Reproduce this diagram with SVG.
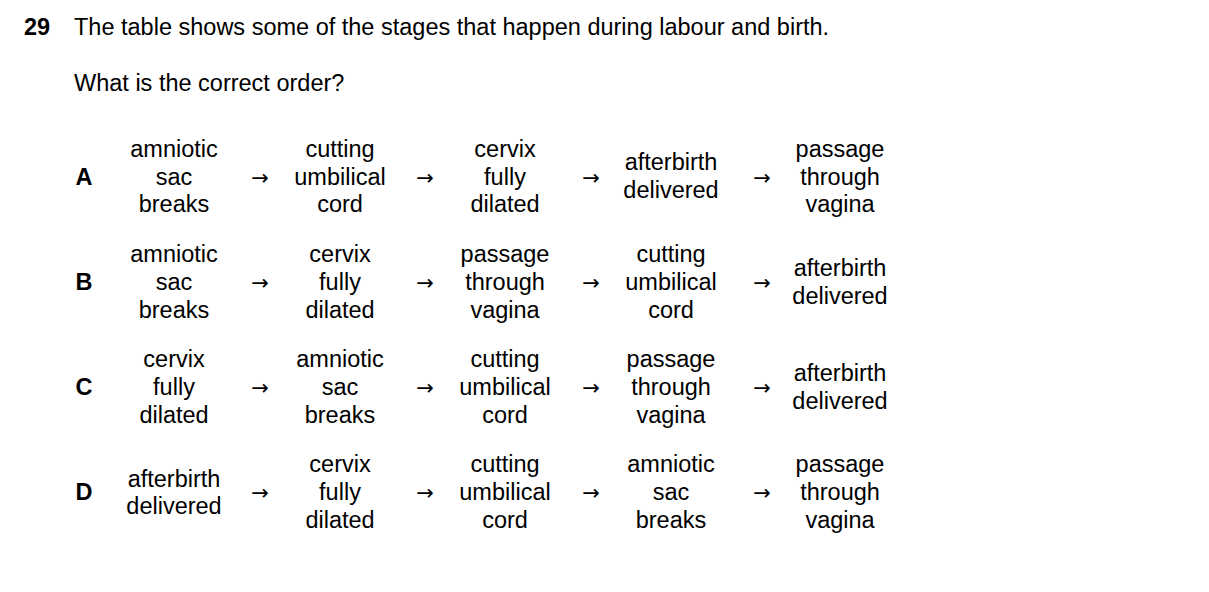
<svg xmlns="http://www.w3.org/2000/svg" width="1209" height="592" viewBox="0 0 1209 592">
<style>
text{font-family:"Liberation Sans",Arial,sans-serif;font-size:23.5px;fill:#000}
.c{text-anchor:middle}
.b{font-weight:bold}
.ar{font-family:"DejaVu Sans",sans-serif;font-size:21px;text-anchor:middle}
</style>
<rect width="1209" height="592" fill="#fff"/>
<text x="24" y="35" class="b">29</text>
<text x="74" y="35">The table shows some of the stages that happen during labour and birth.</text>
<text x="74" y="91">What is the correct order?</text>
<g id="rowA">
<text x="84" y="185" class="c b">A</text>
<text class="c" x="174" y="157">amniotic</text><text class="c" x="174" y="185">sac</text><text class="c" x="174" y="212">breaks</text>
<text class="c" x="340" y="157">cutting</text><text class="c" x="340" y="185">umbilical</text><text class="c" x="340" y="212">cord</text>
<text class="c" x="505" y="157">cervix</text><text class="c" x="505" y="185">fully</text><text class="c" x="505" y="212">dilated</text>
<text class="c" x="671" y="170">afterbirth</text><text class="c" x="671" y="198">delivered</text>
<text class="c" x="840" y="157">passage</text><text class="c" x="840" y="185">through</text><text class="c" x="840" y="212">vagina</text>
</g>
<g id="rowB">
<text x="84" y="290" class="c b">B</text>
<text class="c" x="174" y="262">amniotic</text><text class="c" x="174" y="290">sac</text><text class="c" x="174" y="318">breaks</text>
<text class="c" x="340" y="262">cervix</text><text class="c" x="340" y="290">fully</text><text class="c" x="340" y="318">dilated</text>
<text class="c" x="505" y="262">passage</text><text class="c" x="505" y="290">through</text><text class="c" x="505" y="318">vagina</text>
<text class="c" x="671" y="262">cutting</text><text class="c" x="671" y="290">umbilical</text><text class="c" x="671" y="318">cord</text>
<text class="c" x="840" y="276">afterbirth</text><text class="c" x="840" y="304">delivered</text>
</g>
<g id="rowC">
<text x="84" y="395" class="c b">C</text>
<text class="c" x="174" y="367">cervix</text><text class="c" x="174" y="395">fully</text><text class="c" x="174" y="423">dilated</text>
<text class="c" x="340" y="367">amniotic</text><text class="c" x="340" y="395">sac</text><text class="c" x="340" y="423">breaks</text>
<text class="c" x="505" y="367">cutting</text><text class="c" x="505" y="395">umbilical</text><text class="c" x="505" y="423">cord</text>
<text class="c" x="671" y="367">passage</text><text class="c" x="671" y="395">through</text><text class="c" x="671" y="423">vagina</text>
<text class="c" x="840" y="381">afterbirth</text><text class="c" x="840" y="409">delivered</text>
</g>
<g id="rowD">
<text x="84" y="500" class="c b">D</text>
<text class="c" x="174" y="487">afterbirth</text><text class="c" x="174" y="514">delivered</text>
<text class="c" x="340" y="472">cervix</text><text class="c" x="340" y="500">fully</text><text class="c" x="340" y="528">dilated</text>
<text class="c" x="505" y="472">cutting</text><text class="c" x="505" y="500">umbilical</text><text class="c" x="505" y="528">cord</text>
<text class="c" x="671" y="472">amniotic</text><text class="c" x="671" y="500">sac</text><text class="c" x="671" y="528">breaks</text>
<text class="c" x="840" y="472">passage</text><text class="c" x="840" y="500">through</text><text class="c" x="840" y="528">vagina</text>
</g>
<g id="connectors">
<text class="ar" x="260" y="185">→</text><text class="ar" x="425" y="185">→</text><text class="ar" x="591" y="185">→</text><text class="ar" x="762" y="185">→</text>
<text class="ar" x="260" y="290">→</text><text class="ar" x="425" y="290">→</text><text class="ar" x="591" y="290">→</text><text class="ar" x="762" y="290">→</text>
<text class="ar" x="260" y="395">→</text><text class="ar" x="425" y="395">→</text><text class="ar" x="591" y="395">→</text><text class="ar" x="762" y="395">→</text>
<text class="ar" x="260" y="500">→</text><text class="ar" x="425" y="500">→</text><text class="ar" x="591" y="500">→</text><text class="ar" x="762" y="500">→</text>
</g>
</svg>
